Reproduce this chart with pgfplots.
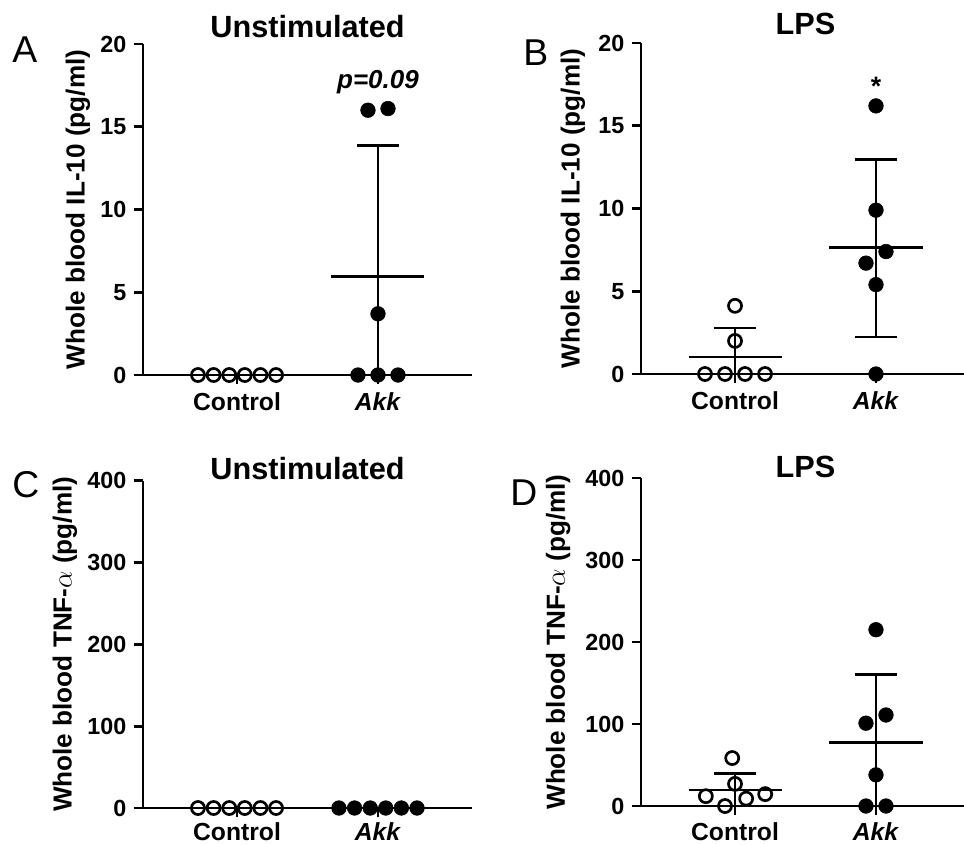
\documentclass[border=0pt]{standalone}
\usepackage{pgfplots}
\pgfplotsset{compat=1.18}
\usepackage{fontspec}
\setmainfont{Liberation Sans}

\pgfplotsset{
  panel/.style={
    scale only axis, width=246.75pt,
    axis lines=left, axis line style={-, line width=2pt},
    xmin=-0.667, xmax=1.667,
    xtick={0,1}, xticklabels={\textbf{Control},\textbf{\textit{Akk}}},
    tick style={line width=2pt, black},
    tick align=outside, major tick length=7pt,
    x tick label style={font=\fontsize{18.5}{20}\selectfont, yshift=-3pt, text depth=0pt},
    y tick label style={font=\fontsize{17.5}{20}\selectfont\bfseries, xshift=-2pt},
    /pgf/number format/assume math mode=true,
    ylabel style={font=\fontsize{19.6}{22}\selectfont\bfseries, anchor=center},
    title style={font=\fontsize{23}{26}\selectfont\bfseries, anchor=base, at={(0.5,1)}},
    clip=false,
  },
  openpt/.style={only marks, mark=o, mark size=4.9pt, mark options={line width=2pt, black}},
  fillpt/.style={only marks, mark=*, mark size=5.5pt, mark options={black, fill=black}},
  bar/.style={line width=2pt, black, mark=none},
}

\begin{document}
\begin{tikzpicture}
\useasboundingbox (0,0) rectangle (723pt,-633pt);

% ---------------- A ----------------
\begin{axis}[panel, at={(107.25pt,-281.25pt)}, anchor=south west,
  height=248.25pt, ymin=0, ymax=20, ytick={0,5,10,15,20},
  ylabel={Whole blood IL-10 (pg/ml)},
  ylabel style={at={(axis description cs:-0.198,0.5)}},
  title={Unstimulated}, title style={yshift=-0.75pt}]
\addplot[openpt] coordinates {(-0.277,0) (-0.166,0) (-0.055,0) (0.055,0) (0.166,0) (0.277,0)};
\addplot[fillpt] coordinates {(0.929,16.0) (1.071,16.1) (1,3.7) (0.858,0) (1,0) (1.142,0)};
\addplot[bar] coordinates {(0.67,5.97) (1.33,5.97)};
\addplot[bar] coordinates {(1,0) (1,13.85)};
\addplot[bar] coordinates {(0.85,13.85) (1.15,13.85)};
\node[font=\fontsize{19.5}{22}\selectfont\bfseries\itshape, anchor=base] at (axis cs:1,17.3) {p=0.09};
\end{axis}

% ---------------- B ----------------
\begin{axis}[panel, at={(480.75pt,-280.5pt)}, anchor=south west,
  height=248.25pt, ymin=0, ymax=20, ytick={0,5,10,15,20},
  ylabel={Whole blood IL-10 (pg/ml)},
  ylabel style={at={(axis description cs:-0.207,0.5)}},
  title={LPS}, title style={yshift=0.75pt}]
\addplot[openpt] coordinates {(0,4.12) (0,2.0) (-0.213,0) (-0.071,0) (0.071,0) (0.213,0)};
\addplot[fillpt] coordinates {(1,16.2) (1,9.9) (1.071,7.4) (0.929,6.7) (1,5.4) (1,0)};
\addplot[bar] coordinates {(-0.33,1.03) (0.33,1.03)};
\addplot[bar] coordinates {(0,0) (0,2.78)};
\addplot[bar] coordinates {(-0.15,2.78) (0.15,2.78)};
\addplot[bar] coordinates {(0.67,7.64) (1.33,7.64)};
\addplot[bar] coordinates {(1,2.24) (1,12.95)};
\addplot[bar] coordinates {(0.85,12.95) (1.15,12.95)};
\addplot[bar] coordinates {(0.85,2.24) (1.15,2.24)};
\node[font=\fontsize{20}{22}\selectfont\bfseries, anchor=base] at (axis cs:1,16.85) {*};
\end{axis}

% ---------------- C ----------------
\begin{axis}[panel, at={(107.25pt,-606pt)}, anchor=south west,
  height=245.5pt, ymin=0, ymax=400, ytick={0,100,200,300,400},
  x tick label style={yshift=2.5pt},
  ylabel={Whole blood TNF-$\alpha$ (pg/ml)},
  ylabel style={at={(axis description cs:-0.237,0.5)}},
  title={Unstimulated}, title style={yshift=-5.25pt}]
\addplot[openpt] coordinates {(-0.277,0) (-0.166,0) (-0.055,0) (0.055,0) (0.166,0) (0.277,0)};
\addplot[fillpt] coordinates {(0.723,0) (0.834,0) (0.945,0) (1.055,0) (1.166,0) (1.277,0)};
\end{axis}

% ---------------- D ----------------
\begin{axis}[panel, at={(480.75pt,-604.5pt)}, anchor=south west,
  height=246pt, ymin=0, ymax=400, ytick={0,100,200,300,400},
  x tick label style={yshift=1pt},
  ylabel={Whole blood TNF-$\alpha$ (pg/ml)},
  ylabel style={at={(axis description cs:-0.252,0.5)}},
  title={LPS}, title style={yshift=-5.25pt}]
\addplot[openpt] coordinates {(-0.02,58.5) (0,27) (-0.207,12) (-0.071,0) (0.079,9) (0.214,14.5)};
\addplot[fillpt] coordinates {(1,215) (1.071,111) (0.929,101) (1,38) (0.929,0) (1.071,0)};
\addplot[bar] coordinates {(-0.33,19.5) (0.33,19.5)};
\addplot[bar] coordinates {(0,0) (0,40)};
\addplot[bar] coordinates {(-0.15,40) (0.15,40)};
\addplot[bar] coordinates {(0.67,77.5) (1.33,77.5)};
\addplot[bar] coordinates {(1,0) (1,160)};
\addplot[bar] coordinates {(0.85,160) (1.15,160)};
\end{axis}

% panel letters
\node[font=\fontsize{28}{30}\selectfont, anchor=base west, inner sep=0pt] at (9pt,-46.5pt) {A};
\node[font=\fontsize{28}{30}\selectfont, anchor=base west, inner sep=0pt] at (392.25pt,-48.75pt) {B};
\node[font=\fontsize{28}{30}\selectfont, anchor=base west, inner sep=0pt] at (9pt,-372.75pt) {C};
\node[font=\fontsize{28}{30}\selectfont, anchor=base west, inner sep=0pt] at (382.5pt,-378.75pt) {D};
\end{tikzpicture}
\end{document}
